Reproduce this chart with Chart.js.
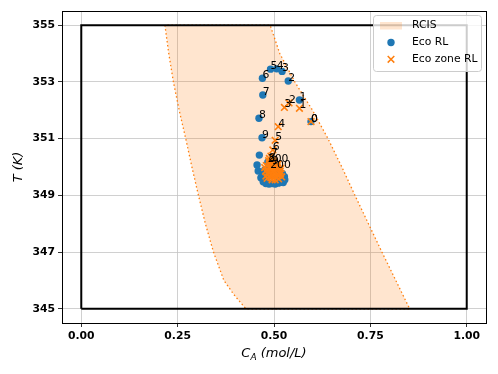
<!DOCTYPE html>
<html lang="en">
<head>
<meta charset="UTF-8">
<title>RCIS vs Eco RL</title>
<script src="https://cdn.jsdelivr.net/npm/chart.js@4.4.0/dist/chart.umd.min.js"></script>
<style>
  body { margin:0; background:#fff; }
  #wrap { width:498px; height:374px; }
</style>
</head>
<body>
<div id="wrap"><canvas id="chart"></canvas></div>
<script>
// RCIS boundary: left edge top -> bottom, then right edge bottom -> top
const rcisCa = [0.217, 0.227, 0.239, 0.254, 0.271, 0.287, 0.304, 0.322, 0.343, 0.370, 0.396, 0.427,
                0.852, 0.816, 0.780, 0.745, 0.710, 0.676, 0.640, 0.600, 0.554, 0.515, 0.495, 0.49, 0.217];
const rcisT  = [355, 354, 353, 352, 351, 350, 349, 348, 347, 346, 345.5, 345,
                345, 346, 347, 348, 349, 350, 351, 352, 353, 354, 354.8, 355, 355];

// constraint box
const boxCa = [0, 1, 1, 0, 0];
const boxT  = [345, 345, 355, 355, 345];

// Eco RL trajectory
const ecoCa = [0.596, 0.566, 0.537, 0.521, 0.507, 0.491, 0.470, 0.471, 0.461, 0.469,
               0.462, 0.456, 0.459, 0.466, 0.472, 0.479, 0.487, 0.495, 0.503, 0.511, 0.519, 0.524,
               0.527, 0.522, 0.481, 0.490, 0.500, 0.510, 0.476, 0.486, 0.500, 0.514, 0.493,
               0.470, 0.528, 0.484];
const ecoT  = [351.60, 352.36, 353.03, 353.37, 353.46, 353.45, 353.13, 352.54, 351.72, 351.03,
               350.42, 350.07, 349.86, 349.62, 349.48, 349.42, 349.40, 349.42, 349.40, 349.43, 349.46, 349.45,
               349.66, 349.76, 349.58, 349.70, 349.80, 349.58, 349.90, 350.08, 350.00, 349.90, 350.25,
               349.72, 349.55, 350.17];
const ecoLabels = ['0','1','2','3','4','5','6','7','8','9',
                   '','','','','','','','','','','','','','','','','','','','','','','','','','200'];

// Eco zone RL trajectory
const zoneCa = [0.596, 0.566, 0.539, 0.527, 0.511, 0.503, 0.497, 0.492, 0.486, 0.495,
                0.480, 0.488, 0.500, 0.510, 0.518, 0.478, 0.485, 0.494, 0.505, 0.515, 0.520,
                0.482, 0.492, 0.502, 0.512, 0.488, 0.498, 0.508, 0.496, 0.476, 0.483, 0.491,
                0.499, 0.507, 0.516, 0.479, 0.487, 0.495, 0.503, 0.511, 0.486, 0.494, 0.502,
                0.510, 0.517, 0.493, 0.500, 0.490];
const zoneT  = [351.60, 352.07, 352.26, 352.10, 351.42, 350.94, 350.60, 350.38, 350.22, 350.12,
                350.05, 350.15, 350.20, 350.10, 349.95, 349.85, 349.75, 349.85, 349.90, 349.78, 349.65,
                349.60, 349.62, 349.68, 349.58, 350.30, 350.28, 350.00, 349.72, 349.98, 349.92, 350.02,
                350.08, 350.03, 349.85, 349.68, 349.66, 349.55, 349.55, 349.70, 349.82, 349.94, 349.76,
                349.95, 349.75, 350.18, 349.88, 349.96];
const zoneLabels = ['0','1','2','3','4','5','6','7','8','9',
                    '','','','','','','','','','','','','','','','','','','','','','',
                    '','','','','','','','','','','','','','','','200'];

const xTicks = [0.00, 0.25, 0.50, 0.75, 1.00];
const yTicks = [345, 347, 349, 351, 353, 355];

const pts = (xs, ys) => xs.map((x, i) => ({x: x, y: ys[i]}));

const FONT = 'DejaVu Sans';
const BLUE = '#1f77b4';
const ORANGE = '#ff7f0e';
const FILL = 'rgba(255,127,14,0.2)';

const extras = {
  id: 'extras',
  afterDatasetsDraw(chart) {
    const ctx = chart.ctx;
    ctx.save();
    ctx.fillStyle = '#000';
    ctx.font = '10.8px ' + FONT;
    ctx.textAlign = 'left';
    ctx.textBaseline = 'alphabetic';
    chart.data.datasets.forEach((ds, di) => {
      if (!ds.pointLabels) return;
      const meta = chart.getDatasetMeta(di);
      meta.data.forEach((el, i) => {
        const t = ds.pointLabels[i];
        if (t) ctx.fillText(t, el.x, el.y);
      });
    });
    ctx.restore();
  },
  afterDraw(chart) {
    const ctx = chart.ctx;
    const a = chart.chartArea;
    ctx.save();
    // spines
    ctx.strokeStyle = '#000';
    ctx.lineWidth = 1;
    ctx.strokeRect(Math.round(a.left) + 0.5, Math.round(a.top) + 0.5,
                   Math.round(a.right - a.left), Math.round(a.bottom - a.top));

    // legend
    const lx = 373.5, ly = 15.5, lw = 108, lh = 56;
    ctx.beginPath();
    ctx.roundRect(lx, ly, lw, lh, 3);
    ctx.fillStyle = 'rgba(255,255,255,0.8)';
    ctx.fill();
    ctx.strokeStyle = '#cccccc';
    ctx.lineWidth = 1;
    ctx.stroke();

    ctx.fillStyle = FILL;
    ctx.fillRect(380, 22, 22, 7.5);

    ctx.fillStyle = BLUE;
    ctx.beginPath();
    ctx.arc(391, 42.5, 3.7, 0, Math.PI * 2);
    ctx.fill();

    ctx.strokeStyle = ORANGE;
    ctx.lineWidth = 1.5;
    ctx.beginPath();
    ctx.moveTo(387.7, 56); ctx.lineTo(394.3, 62.6);
    ctx.moveTo(394.3, 56); ctx.lineTo(387.7, 62.6);
    ctx.stroke();

    ctx.fillStyle = '#000';
    ctx.font = '10.8px ' + FONT;
    ctx.textAlign = 'left';
    ctx.textBaseline = 'middle';
    ctx.fillText('RCIS', 412, 25.5);
    ctx.fillText('Eco RL', 412, 42.5);
    ctx.fillText('Eco zone RL', 412, 59.5);

    // x title: C_A (mol/L)
    ctx.textBaseline = 'alphabetic';
    const big = 'italic 13px ' + FONT, small = 'italic 9px ' + FONT;
    ctx.font = big;
    const w1 = ctx.measureText('C').width;
    const w3 = ctx.measureText(' (mol/L)').width;
    ctx.font = small;
    const w2 = ctx.measureText('A').width;
    let x0 = (a.left + a.right) / 2 - (w1 + w2 + w3) / 2;
    const by = 357;
    ctx.font = big;
    ctx.fillText('C', x0, by);
    ctx.font = small;
    ctx.fillText('A', x0 + w1, by + 3);
    ctx.font = big;
    ctx.fillText(' (mol/L)', x0 + w1 + w2, by);

    // y title: T (K)
    ctx.translate(22, (a.top + a.bottom) / 2);
    ctx.rotate(-Math.PI / 2);
    ctx.textAlign = 'center';
    ctx.fillText('T (K)', 0, 0);
    ctx.restore();
  }
};

new Chart(document.getElementById('chart'), {
  type: 'scatter',
  data: {
    datasets: [
      {
        label: 'RCIS',
        data: pts(rcisCa, rcisT),
        showLine: true,
        fill: 'shape',
        backgroundColor: FILL,
        borderColor: ORANGE,
        borderWidth: 1.3,
        borderDash: [1.5, 2.5],
        pointRadius: 0,
        order: 4
      },
      {
        label: 'box',
        data: pts(boxCa, boxT),
        showLine: true,
        fill: false,
        borderColor: '#000',
        borderWidth: 2,
        pointRadius: 0,
        order: 3
      },
      {
        label: 'Eco RL',
        data: pts(ecoCa, ecoT),
        pointLabels: ecoLabels,
        backgroundColor: BLUE,
        borderColor: BLUE,
        borderWidth: 0,
        pointStyle: 'circle',
        pointRadius: 3.7,
        order: 2
      },
      {
        label: 'Eco zone RL',
        data: pts(zoneCa, zoneT),
        pointLabels: zoneLabels,
        backgroundColor: ORANGE,
        borderColor: ORANGE,
        borderWidth: 1.6,
        pointStyle: 'crossRot',
        pointRadius: 4.7,
        order: 1
      }
    ]
  },
  options: {
    responsive: true,
    maintainAspectRatio: false,
    animation: false,
    layout: { padding: { left: 0, right: 12, top: 11, bottom: 0 } },
    plugins: { legend: { display: false }, tooltip: { enabled: false } },
    scales: {
      x: {
        type: 'linear',
        min: -0.05,
        max: 1.05,
        afterBuildTicks: s => { s.ticks = xTicks.map(v => ({value: v})); },
        afterFit: s => { s.height = 51; },
        ticks: {
          color: '#000',
          font: { family: FONT, size: 10.8, weight: 'bold' },
          padding: 3,
          callback: v => Number(v).toFixed(2)
        },
        grid: { color: '#c4c4c4', lineWidth: 0.8, tickColor: '#000', tickLength: 4 },
        border: { display: false }
      },
      y: {
        type: 'linear',
        min: 344.5,
        max: 355.5,
        afterBuildTicks: s => { s.ticks = yTicks.map(v => ({value: v})); },
        afterFit: s => { s.width = 62; },
        ticks: {
          color: '#000',
          font: { family: FONT, size: 10.8, weight: 'bold' },
          padding: 3,
          callback: v => String(v)
        },
        grid: { color: '#c4c4c4', lineWidth: 0.8, tickColor: '#000', tickLength: 4 },
        border: { display: false }
      }
    }
  },
  plugins: [extras]
});
</script>
</body>
</html>
